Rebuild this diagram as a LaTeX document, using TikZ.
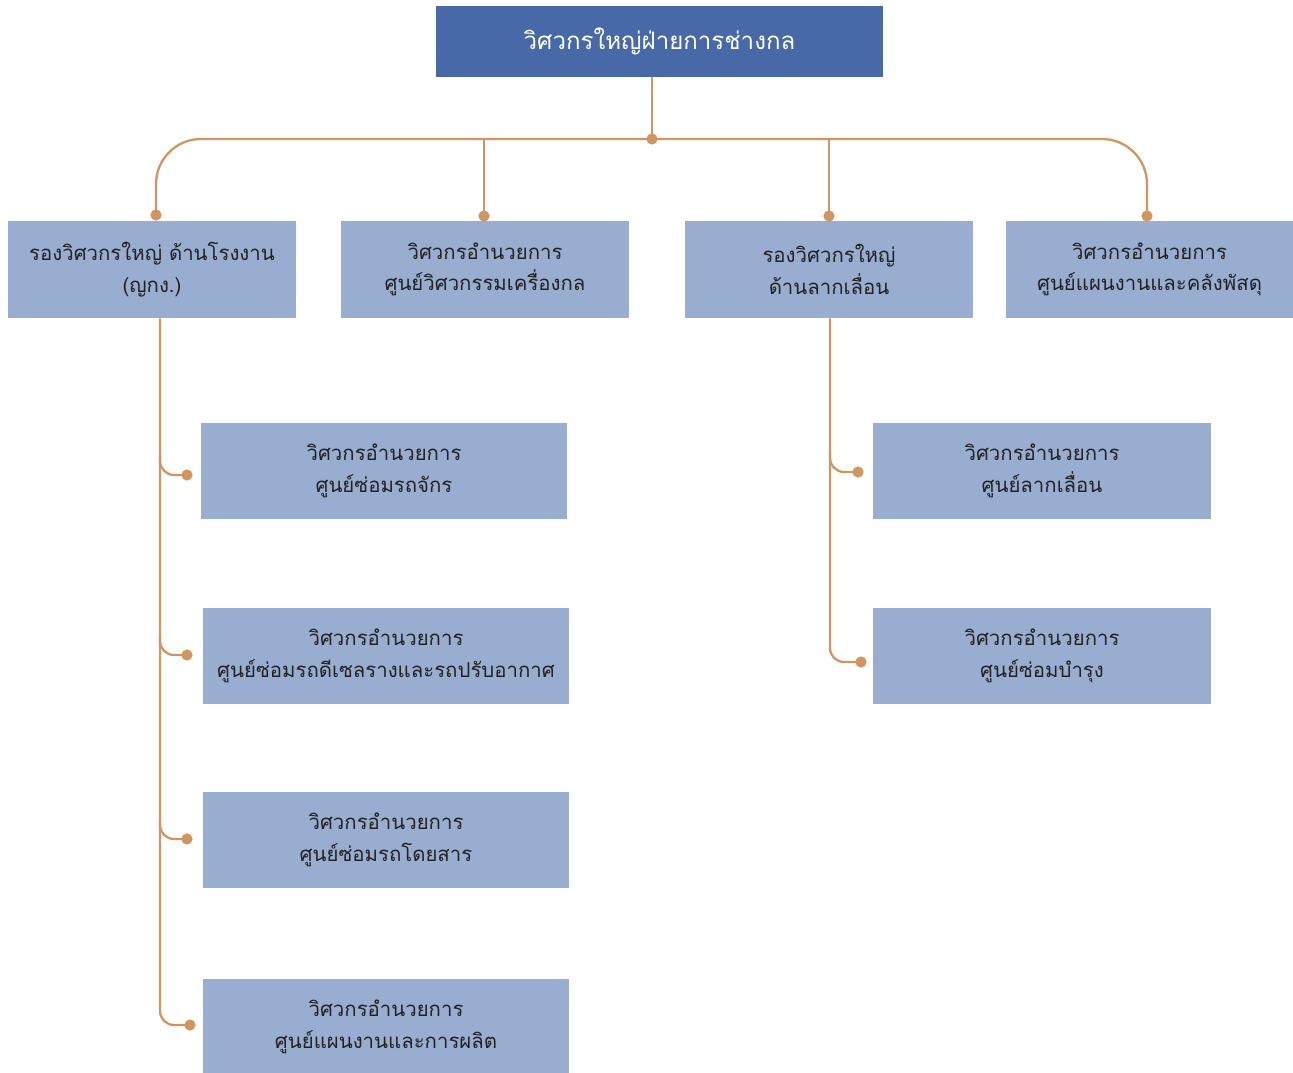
\documentclass[tikz,border=0pt]{standalone}
\usepackage{fontspec}
\setmainfont[Script=Thai]{Loma}
\usepackage{tikz}
\usetikzlibrary{positioning, calc}
\definecolor{chiefblue}{RGB}{71,105,168}
\definecolor{boxblue}{RGB}{152,173,207}
\definecolor{linkorange}{RGB}{209,150,96}
\definecolor{textgray}{RGB}{34,34,34}

\begin{document}
\begin{tikzpicture}[x=0.02cm, y=-0.02cm, font=\fontsize{11.6}{18}\selectfont,
    chief/.style={rectangle, fill=chiefblue, text=white, inner sep=0pt,
      minimum width=8.94cm, minimum height=1.42cm, align=center,
      font=\fontsize{13.7}{18}\selectfont},
    deputy/.style={rectangle, fill=boxblue, text=textgray, inner sep=0pt,
      minimum width=5.76cm, minimum height=1.94cm, align=center},
    unit/.style={deputy, minimum width=7.32cm, minimum height=1.92cm},
    link/.style={draw=linkorange, line width=1.3pt},
    joint/.style={circle, fill=linkorange, inner sep=0pt, minimum size=6.4pt}]
  \useasboundingbox (0,0) rectangle (1293,1072);

  % top
  \node[chief] (chief) at (659.5,41.5) {วิศวกรใหญ่ฝ่ายการช่างกล};

  % second row
  \node[deputy] (plant) at (152,269.5) {รองวิศวกรใหญ่ ด้านโรงงาน\\(ญกง.)};
  \node[deputy] (mecheng) at (485,269.5) {วิศวกรอำนวยการ\\ศูนย์วิศวกรรมเครื่องกล};
  \node[deputy] (haul) at (829,269.5) {รองวิศวกรใหญ่\\ด้านลากเลื่อน};
  \node[deputy, minimum width=5.74cm] (stores) at (1149.5,269.5)
    {วิศวกรอำนวยการ\\ศูนย์แผนงานและคลังพัสดุ};

  % under plant
  \node[unit] (loco) at (384,471) {วิศวกรอำนวยการ\\ศูนย์ซ่อมรถจักร};
  \node[unit] (diesel) at (386,656) {วิศวกรอำนวยการ\\ศูนย์ซ่อมรถดีเซลรางและรถปรับอากาศ};
  \node[unit] (coach) at (386,840) {วิศวกรอำนวยการ\\ศูนย์ซ่อมรถโดยสาร};
  \node[unit] (prod) at (386,1027) {วิศวกรอำนวยการ\\ศูนย์แผนงานและการผลิต};

  % under haulage
  \node[unit, minimum width=6.76cm] (traction) at (1042,471) {วิศวกรอำนวยการ\\ศูนย์ลากเลื่อน};
  \node[unit, minimum width=6.76cm] (maint) at (1042,656) {วิศวกรอำนวยการ\\ศูนย์ซ่อมบำรุง};

  % joints
  \node[joint] (hub) at (652,139) {};
  \node[joint] (jplant) at (156,215) {};
  \node[joint] (jmecheng) at (484,216) {};
  \node[joint] (jhaul) at (829,216) {};
  \node[joint] (jstores) at (1147,216) {};
  \node[joint] (jloco) at (187,475) {};
  \node[joint] (jdiesel) at (187,655) {};
  \node[joint] (jcoach) at (187,839) {};
  \node[joint] (jprod) at (190,1025) {};
  \node[joint] (jtraction) at (858,472) {};
  \node[joint] (jmaint) at (861,662) {};
  \coordinate (spineL) at (160,0);
  \coordinate (spineR) at (830,0);

  % connectors
  \draw[link] (chief.south -| hub) -- (hub.center);
  \draw[link, rounded corners=0.9cm] (jplant.center) |- (hub.center) -| (jstores.center);
  \draw[link] (jmecheng.center) -- (jmecheng |- hub);
  \draw[link] (jhaul.center) -- (jhaul |- hub);

  \draw[link, rounded corners=8pt] (plant.south -| spineL) |- (jprod.center);
  \foreach \j in {jloco, jdiesel, jcoach}
    \draw[link, rounded corners=8pt] ($(\j -| spineL)+(0,-20)$) |- (\j.center);

  \draw[link, rounded corners=8pt] (haul.south -| spineR) |- (jmaint.center);
  \draw[link, rounded corners=8pt] ($(jtraction -| spineR)+(0,-20)$) |- (jtraction.center);
\end{tikzpicture}
\end{document}
